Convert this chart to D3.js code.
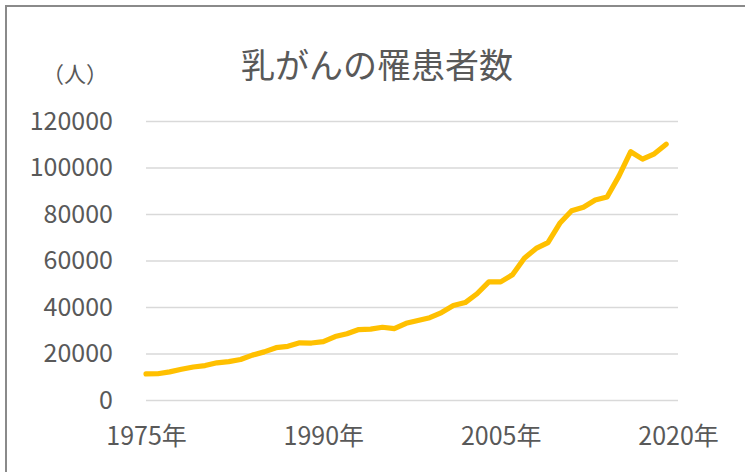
<!DOCTYPE html>
<html>
<head>
<meta charset="utf-8">
<script src="https://cdn.jsdelivr.net/npm/d3@7"></script>
<style>
  html, body { margin: 0; padding: 0; background: #fff; }
  svg { display: block; }
  text { font-family: "Noto Sans CJK JP", "Noto Sans", sans-serif; fill: #595959; }
</style>
</head>
<body>
<svg id="chart" width="745" height="472"></svg>
<script>
const title = "乳がんの罹患者数";
const unitLabel = "（人）";
const categories = [1975,1976,1977,1978,1979,1980,1981,1982,1983,1984,1985,1986,1987,1988,1989,
  1990,1991,1992,1993,1994,1995,1996,1997,1998,1999,2000,2001,2002,2003,2004,2005,2006,2007,2008,2009,
  2010,2011,2012,2013,2014,2015,2016,2017,2018,2019,2020];
const values = [11200,11300,12100,13200,14200,14800,16000,16500,17400,19300,20700,22500,23100,24600,24500,
  25100,27300,28500,30300,30500,31300,30700,33000,34200,35400,37600,40600,41900,45700,50800,50800,53900,61000,65200,67700,
  76000,81400,82900,86000,87300,96300,106800,103600,105900,110000];
const yTicks = [0,20000,40000,60000,80000,100000,120000];
const xTickLabels = [1975,1990,2005,2020];

const svg = d3.select("#chart");
const mLeft = 146, mRight = 678, mTop = 121, mBottom = 400;

// border
svg.append("rect").attr("x", 6).attr("y", 6).attr("width", 800).attr("height", 600)
  .attr("fill", "none").attr("stroke", "#8a8a8a").attr("stroke-width", 2);

const x = d3.scalePoint().domain(categories).range([mLeft, mRight]);
const y = d3.scaleLinear().domain([0, 120000]).range([mBottom, mTop]);

const yAxis = svg.append("g").attr("transform", `translate(${mLeft},0)`)
  .call(d3.axisLeft(y).tickValues(yTicks).tickSize(-(mRight - mLeft)).tickPadding(33).tickFormat(d3.format("d")));
yAxis.select(".domain").remove();
yAxis.selectAll(".tick line").attr("stroke", "#d9d9d9").attr("stroke-width", 1.4);
yAxis.selectAll(".tick text").attr("font-size", 25).attr("fill", "#595959");

const xAxis = svg.append("g").attr("transform", `translate(0,${mBottom})`)
  .call(d3.axisBottom(x).tickValues(xTickLabels).tickSize(0).tickPadding(27).tickFormat(d => d + "年"));
xAxis.select(".domain").remove();
xAxis.selectAll(".tick text").attr("font-size", 25).attr("fill", "#595959");

const line = d3.line().x((d, i) => x(categories[i])).y(d => y(d));
svg.append("path").datum(values).attr("d", line)
  .attr("fill", "none").attr("stroke", "#FFC000").attr("stroke-width", 5.2)
  .attr("stroke-linejoin", "round").attr("stroke-linecap", "round");

svg.append("text").attr("x", 377).attr("y", 78).attr("text-anchor", "middle")
  .attr("font-size", 34).text(title);
svg.append("text").attr("x", 75).attr("y", 82).attr("text-anchor", "middle")
  .attr("font-size", 22).text(unitLabel);
</script>
</body>
</html>
